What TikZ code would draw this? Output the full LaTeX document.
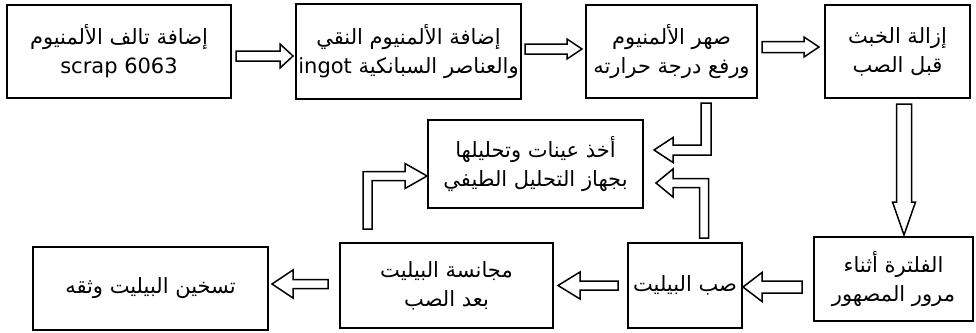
\documentclass[tikz,border=0pt]{standalone}
\usepackage{fontspec}
\usepackage{tikz}
\usetikzlibrary{calc}
\usetikzlibrary{positioning}
\newfontfamily\arabicfont[Script=Arabic]{DejaVu Sans}
\TeXXeTstate=1
% straight block arrow: shaft half width, head half width, head length, from, to
\newcommand{\fatarrow}[5]{%
  \draw[fat] let \p1=(#4), \p2=(#5), \n1={atan2(\y2-\y1,\x2-\x1)} in
    ($(\p1)+(\n1+90:#1)$) -- ($(\p2)+(\n1+180:#3)+(\n1+90:#1)$) -- ($(\p2)+(\n1+180:#3)+(\n1+90:#2)$)
    -- (\p2) -- ($(\p2)+(\n1+180:#3)+(\n1-90:#2)$) -- ($(\p2)+(\n1+180:#3)+(\n1-90:#1)$)
    -- ($(\p1)+(\n1-90:#1)$) -- cycle;}
% bent block arrow: same sizes, from, corner, to
\newcommand{\bentfat}[6]{%
  \draw[fat] let \p1=(#4), \p2=(#5), \p3=(#6), \n1={atan2(\y2-\y1,\x2-\x1)}, \n2={atan2(\y3-\y2,\x3-\x2)} in
    ($(\p1)+(\n1+90:#1)$) -- ($(\p2)+(\n1+90:#1)+(\n2+90:#1)$) -- ($(\p3)+(\n2+180:#3)+(\n2+90:#1)$)
    -- ($(\p3)+(\n2+180:#3)+(\n2+90:#2)$) -- (\p3) -- ($(\p3)+(\n2+180:#3)+(\n2-90:#2)$)
    -- ($(\p3)+(\n2+180:#3)+(\n2-90:#1)$) -- ($(\p2)+(\n1-90:#1)+(\n2-90:#1)$) -- ($(\p1)+(\n1-90:#1)$) -- cycle;}

\begin{document}
\begin{tikzpicture}[x=1pt,y=-1pt,
  box/.style={draw,line width=1.7pt,outer sep=0pt,align=center,inner sep=0pt,font=\arabicfont\fontsize{21}{29}\selectfont},
  fat/.style={draw,line width=1.5pt,fill=white,line join=miter}]
  \useasboundingbox (0,0) rectangle (976,332);
  \node[box,minimum width=224pt,minimum height=93pt] (scrap) at (119,51.5) {\beginR إضافة تالف الألمنيوم\endR\\scrap 6063};
  \node[box,minimum width=225pt,minimum height=95pt,right=65pt of scrap] (ingot) {\beginR إضافة الألمنيوم النقي\endR\\\beginR والعناصر السبانكية \beginL ingot\endL\endR};
  \node[box,minimum width=171pt,minimum height=93pt,right=65pt of ingot] (melt) {\beginR صهر الألمنيوم\endR\\\beginR ورفع درجة حرارته\endR};
  \node[box,minimum width=145pt,minimum height=93pt,right=68pt of melt] (dross) {\beginR إزالة الخبث\endR\\\beginR قبل الصب\endR};
  \node[box,minimum width=215pt,minimum height=88pt] (sample) at (535.5,164) {\beginR أخذ عينات وتحليلها\endR\\\beginR بجهاز التحليل الطيفي\endR};
  \node[box,minimum width=159pt,minimum height=84pt] (filter) at (893.5,279) {\beginR الفلترة أثناء\endR\\\beginR مرور المصهور\endR};
  \node[box,minimum width=114pt,minimum height=85pt] (pour) at (685,285.5) {\beginR صب البيليت\endR};
  \node[box,minimum width=213pt,minimum height=85pt] (homog) at (446.5,285.5) {\beginR مجانسة البيليت\endR\\\beginR بعد الصب\endR};
  \node[box,minimum width=235pt,minimum height=83pt] (heat) at (150.5,288.5) {\beginR تسخين البيليت وثقه\endR};
  \coordinate (d1) at ($(dross.south)+(6.5,6)$);
  \coordinate (d2) at ($(d1 |- filter.north)+(0,-2)$);
  \coordinate (m1) at ($(melt.south)+(34.5,5)$);
  \coordinate (m2) at ($(sample.east)+(11,-14)$);
  \coordinate (p1) at ($(pour.north)+(19,-5)$);
  \coordinate (p2) at ($(sample.east)+(13,19)$);
  \coordinate (h1) at ($(homog.north)+(-79,-14)$);
  \coordinate (h2) at ($(sample.west)+(-1,12)$);
  \fatarrow{5pt}{12pt}{13pt}{$(scrap.east)+(5,4.5)$}{$(ingot.west)+(-3,4.5)$}
  \fatarrow{5pt}{10pt}{15pt}{$(ingot.east)+(4,-2.5)$}{$(melt.west)+(-4,-2.5)$}
  \fatarrow{5.5pt}{10pt}{15pt}{$(melt.east)+(5,-4.5)$}{$(dross.west)+(-6,-4.5)$}
  \fatarrow{7.5pt}{11.5pt}{33pt}{d1}{d2}
  \fatarrow{6pt}{14.5pt}{19pt}{$(filter.west)+(-12,8)$}{$(pour.east)+(1,1.5)$}
  \fatarrow{4.5pt}{13.5pt}{22pt}{$(pour.west)+(-10,0)$}{$(homog.east)+(5,0)$}
  \fatarrow{4.5pt}{14pt}{21pt}{$(homog.west)+(-12,-1.5)$}{$(heat.east)+(4,-4.5)$}
  \bentfat{5pt}{12.5pt}{19pt}{m1}{m1 |- m2}{m2}
  \bentfat{4.5pt}{14pt}{17pt}{p1}{p1 |- p2}{p2}
  \bentfat{4.5pt}{12.5pt}{22pt}{h1}{h1 |- h2}{h2}
\end{tikzpicture}
\end{document}
